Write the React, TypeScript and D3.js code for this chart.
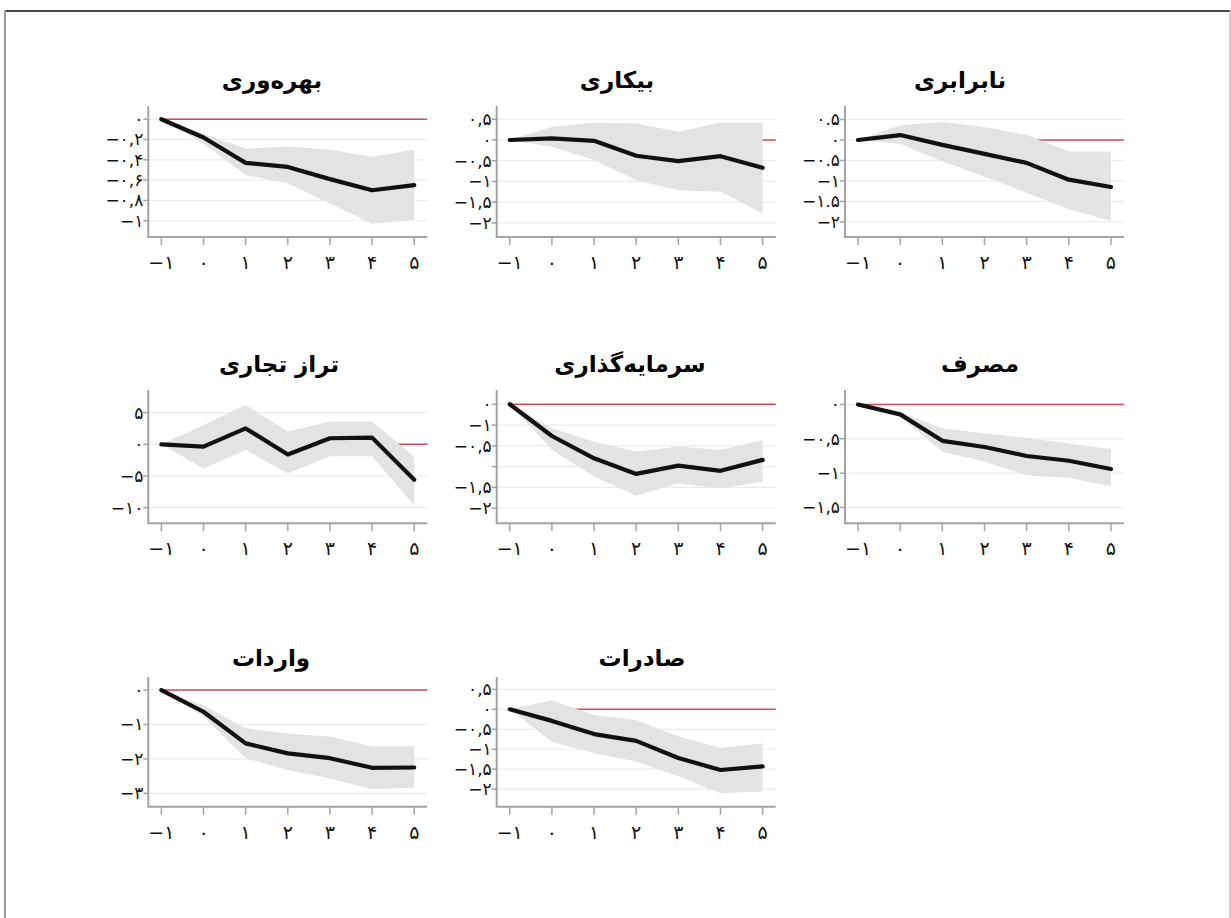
import React from "react";
import * as d3 from "d3";

// ---------- data ----------
const horizons = [-1, 0, 1, 2, 3, 4, 5];
const xTickLabels = ["−۱", "۰", "۱", "۲", "۳", "۴", "۵"];

const titles = ["بهره‌وری", "بیکاری", "نابرابری", "تراز تجاری", "سرمایه‌گذاری", "مصرف", "واردات", "صادرات"];

const productivityIrf = [0, -0.18, -0.43, -0.47, -0.59, -0.7, -0.65];
const productivityLo = [0, -0.24, -0.55, -0.63, -0.83, -1.03, -0.99];
const productivityHi = [0, -0.14, -0.29, -0.27, -0.3, -0.37, -0.3];

const unemploymentIrf = [0, 0.04, -0.02, -0.38, -0.51, -0.39, -0.67];
const unemploymentLo = [0, -0.16, -0.48, -0.97, -1.21, -1.25, -1.77];
const unemploymentHi = [0, 0.32, 0.42, 0.4, 0.2, 0.42, 0.42];

const inequalityIrf = [0, 0.12, -0.12, -0.34, -0.56, -0.97, -1.15];
const inequalityLo = [0, -0.1, -0.52, -0.89, -1.29, -1.69, -1.98];
const inequalityHi = [0, 0.36, 0.44, 0.32, 0.12, -0.28, -0.28];

const tradeIrf = [0, -0.37, 2.5, -1.6, 0.95, 1.05, -5.6];
const tradeLo = [0, -3.8, -0.9, -4.6, -1.9, -1.9, -9.6];
const tradeHi = [0, 3.05, 6.2, 2.0, 3.6, 3.6, -2.0];

const investmentIrf = [0, -0.61, -1.04, -1.34, -1.18, -1.28, -1.07];
const investmentLo = [0, -0.88, -1.39, -1.76, -1.52, -1.62, -1.49];
const investmentHi = [0, -0.46, -0.72, -0.91, -0.81, -0.88, -0.69];

const consumptionIrf = [0, -0.145, -0.53, -0.62, -0.75, -0.82, -0.94];
const consumptionLo = [0, -0.18, -0.69, -0.83, -1.03, -1.07, -1.19];
const consumptionHi = [0, -0.11, -0.35, -0.42, -0.49, -0.57, -0.65];

const importsIrf = [0, -0.63, -1.55, -1.84, -1.98, -2.26, -2.25];
const importsLo = [0, -0.77, -1.98, -2.32, -2.57, -2.88, -2.83];
const importsHi = [0, -0.44, -1.11, -1.26, -1.36, -1.63, -1.63];

const exportsIrf = [0, -0.29, -0.62, -0.79, -1.22, -1.52, -1.43];
const exportsLo = [0, -0.81, -1.1, -1.31, -1.68, -2.1, -2.06];
const exportsHi = [0, 0.23, -0.14, -0.27, -0.68, -0.97, -0.85];

const yTicks1 = [0, -0.2, -0.4, -0.6, -0.8, -1];
const yLabels1 = ["۰", "−۰,۲", "−۰,۴", "−۰,۶", "−۰,۸", "−۱"];
const yTicks2 = [0.5, 0, -0.5, -1, -1.5, -2];
const yLabels2 = ["۰,۵", "۰", "−۰,۵", "−۱", "−۱,۵", "−۲"];
const yTicks3 = [0.5, 0, -0.5, -1, -1.5, -2];
const yLabels3 = ["۰.۵", "۰", "−۰.۵", "−۱", "−۱.۵", "−۲"];
const yTicks4 = [5, 0, -5, -10];
const yLabels4 = ["۵", "۰", "−۵", "−۱۰"];
const yTicks5 = [0, -0.4, -0.8, -1.2, -1.6, -2];
const yLabels5 = ["۰", "−۱", "−۰,۵", "", "−۱,۵", "−۲"];
const yTicks6 = [0, -0.5, -1, -1.5];
const yLabels6 = ["۰", "−۰,۵", "−۱", "−۱,۵"];
const yTicks7 = [0, -1, -2, -3];
const yLabels7 = ["۰", "−۱", "−۲", "−۳"];
const yTicks8 = [0.5, 0, -0.5, -1, -1.5, -2];
const yLabels8 = ["۰,۵", "۰", "−۰,۵", "−۱", "−۱,۵", "−۲"];

const yDomains: [number, number][] = [
  [-1.16, 0.13],
  [-2.34, 0.82],
  [-2.37, 0.83],
  [-12.46, 8.56],
  [-2.29, 0.275],
  [-1.73, 0.21],
  [-3.39, 0.38],
  [-2.44, 0.81],
];

// ---------- layout ----------
const W = 1231;
const H = 918;
const colX = [148.3, 496.7, 845];
const rowTop = [106, 390, 677];
const rowBottom = [237, 523.3, 806.7];
const titleBase = [88, 372, 666];
const titleCx = [272, 617, 960, 279, 630, 980, 271, 642];
const plotW = 279;

const series = [
  { irf: productivityIrf, lo: productivityLo, hi: productivityHi, ticks: yTicks1, labels: yLabels1 },
  { irf: unemploymentIrf, lo: unemploymentLo, hi: unemploymentHi, ticks: yTicks2, labels: yLabels2 },
  { irf: inequalityIrf, lo: inequalityLo, hi: inequalityHi, ticks: yTicks3, labels: yLabels3 },
  { irf: tradeIrf, lo: tradeLo, hi: tradeHi, ticks: yTicks4, labels: yLabels4 },
  { irf: investmentIrf, lo: investmentLo, hi: investmentHi, ticks: yTicks5, labels: yLabels5 },
  { irf: consumptionIrf, lo: consumptionLo, hi: consumptionHi, ticks: yTicks6, labels: yLabels6 },
  { irf: importsIrf, lo: importsLo, hi: importsHi, ticks: yTicks7, labels: yLabels7 },
  { irf: exportsIrf, lo: exportsLo, hi: exportsHi, ticks: yTicks8, labels: yLabels8 },
];

const FONT = "'DejaVu Sans', 'Noto Sans', sans-serif";
const AXIS = "#a3a3a3";

function Panel({ i }: { i: number }) {
  const row = Math.floor(i / 3);
  const col = i % 3;
  const left = colX[col];
  const right = left + plotW;
  const top = rowTop[row];
  const bottom = rowBottom[row];
  const s = series[i];
  const x = d3.scaleLinear().domain([-1.31, 5.31]).range([left, right]);
  const y = d3.scaleLinear().domain(yDomains[i]).range([bottom, top]);
  const pts = horizons.map((h, k) => ({ h, v: s.irf[k], lo: s.lo[k], hi: s.hi[k] }));
  const area = d3
    .area<any>()
    .x((d) => x(d.h))
    .y0((d) => y(d.lo))
    .y1((d) => y(d.hi));
  const line = d3
    .line<any>()
    .x((d) => x(d.h))
    .y((d) => y(d.v));
  return (
    <g>
      <text
        x={titleCx[i]}
        y={titleBase[row]}
        textAnchor="middle"
        fontFamily={FONT}
        fontWeight="bold"
        fontSize={23}
        direction="rtl"
        fill="#000"
      >
        {titles[i]}
      </text>
      {s.ticks.map((t, k) => (
        <line key={"g" + k} x1={left} x2={right} y1={y(t)} y2={y(t)} stroke="#ebebeb" strokeWidth={1.2} />
      ))}
      <line x1={x(-1)} x2={right} y1={y(0)} y2={y(0)} stroke="#d8475c" strokeWidth={1.5} />
      <path d={area(pts) || ""} fill="#e3e3e3" />
      <path d={line(pts) || ""} fill="none" stroke="#111" strokeWidth={4.2} strokeLinejoin="round" strokeLinecap="round" />
      <line x1={left} x2={left} y1={top} y2={bottom} stroke={AXIS} strokeWidth={2} />
      <line x1={left - 1} x2={right} y1={bottom} y2={bottom} stroke={AXIS} strokeWidth={2} />
      {s.ticks.map((t, k) => (
        <g key={"y" + k}>
          <line x1={left - 5} x2={left} y1={y(t)} y2={y(t)} stroke={AXIS} strokeWidth={1.5} />
          <text
            x={left - 5}
            y={y(t)}
            dy="0.35em"
            textAnchor="end"
            fontFamily={FONT}
            fontSize={17}
            fill="#111"
          >
            {s.labels[k]}
          </text>
        </g>
      ))}
      {horizons.map((h, k) => (
        <g key={"x" + k}>
          <line x1={x(h)} x2={x(h)} y1={bottom} y2={bottom + 8} stroke={AXIS} strokeWidth={1.5} />
          <text x={x(h)} y={bottom + 32} textAnchor="middle" fontFamily={FONT} fontSize={19} fill="#111">
            {xTickLabels[k]}
          </text>
        </g>
      ))}
    </g>
  );
}

export default function App() {
  return (
    <svg
      width={W}
      height={H}
      viewBox={`0 0 ${W} ${H}`}
      style={{ position: "absolute", left: 0, top: 0, background: "#fff" }}
    >
      <rect x={0} y={0} width={W} height={H} fill="#fff" />
      <line x1={5} x2={W} y1={11} y2={11} stroke="#444" strokeWidth={2} />
      <line x1={5} x2={5} y1={10} y2={H} stroke="#999" strokeWidth={2} />
      <line x1={W - 1} x2={W - 1} y1={10} y2={H} stroke="#bbb" strokeWidth={1.5} />
      {titles.map((_, i) => (
        <Panel key={i} i={i} />
      ))}
    </svg>
  );
}
